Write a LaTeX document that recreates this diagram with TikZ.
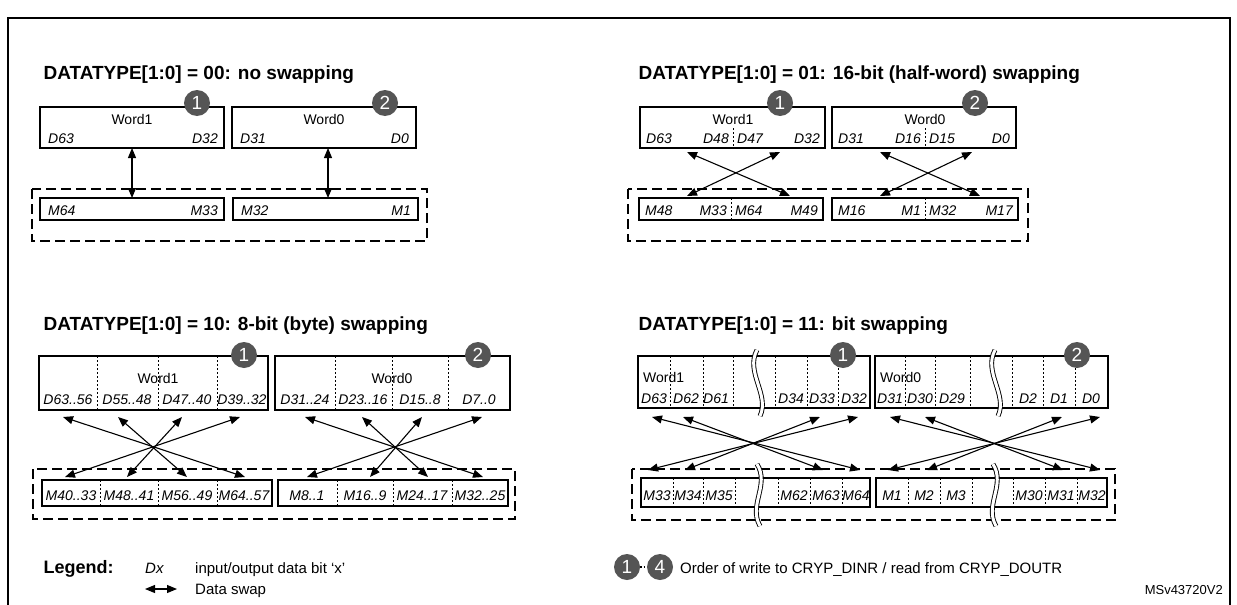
\documentclass[tikz,border=0pt]{standalone}
\usepackage{fontspec}
\setmainfont{Liberation Sans}
\usetikzlibrary{arrows.meta}
\definecolor{numgray}{HTML}{555555}
\tikzset{
  box/.style={draw,line width=1.3pt},
  grp/.style={draw,line width=1.3pt,dash pattern=on 10pt off 5pt},
  divd/.style={line width=1pt,dash pattern=on 2pt off 2pt},
  swap/.style={line width=1.1pt,{Triangle[length=10pt,width=8pt]}-{Triangle[length=10pt,width=8pt]}},
  num/.style={circle,fill=numgray,text=white,inner sep=0pt,minimum size=26pt,font=\fontsize{19}{19}\selectfont},
  ttl/.style={anchor=base west,font=\fontsize{19}{22}\selectfont\bfseries},
  lbl/.style={font=\fontsize{14}{16}\selectfont\itshape,inner sep=0pt,anchor=base},
  wrd/.style={font=\fontsize{14}{16}\selectfont,inner sep=0pt,anchor=base},
  brk/.style={line width=0.9pt,double=white,double distance=3pt}
}
\begin{document}
\begin{tikzpicture}[x=1pt,y=-1pt]
\useasboundingbox (0,0) rectangle (1237,605);
% frame
\draw[line width=1.5pt] (8,605) -- (8,18) -- (1230,18) -- (1230,605);

% ---- 00: no swapping
\node[ttl] (t00) at (40,79) {DATATYPE[1:0] = 00: no swapping};
\draw[grp] (32,189) rectangle (427,241);
\draw[box] (40,107) rectangle (224,148);
\draw[box] (232,107) rectangle (416,148);
\draw[box] (40,198) rectangle (224,220);
\draw[box] (233,198) rectangle (418,220);
\node[wrd] (w1a) at (132,124) {Word1};
\node[wrd] (w0a) at (324,124) {Word0};
\node[lbl,anchor=base west] at (48,143) {D63};
\node[lbl,anchor=base east] at (218,143) {D32};
\node[lbl,anchor=base west] at (240,143) {D31};
\node[lbl,anchor=base east] at (409,143) {D0};
\node[lbl,anchor=base west] at (48,215) {M64};
\node[lbl,anchor=base east] at (218,215) {M33};
\node[lbl,anchor=base west] at (241,215) {M32};
\node[lbl,anchor=base east] at (411,215) {M1};
\coordinate (a1t) at (132,148); \coordinate (a1b) at (132,198);
\coordinate (a0t) at (328,148); \coordinate (a0b) at (328,198);
\draw[swap] (a1t) -- (a1b);
\draw[swap] (a0t) -- (a0b);
\node[num] (n1a) at (197,103) {1};
\node[num] (n2a) at (385,103) {2};

% ---- 01: half-word swapping
\node[ttl] (t01) at (635,79) {DATATYPE[1:0] = 01: 16-bit (half-word) swapping};
\draw[grp] (628,189) rectangle (1028,241);
\draw[box] (640,107) rectangle (825,148);
\draw[box] (832,107) rectangle (1016,148);
\draw[box] (639,198) rectangle (823,220);
\draw[box] (832,198) rectangle (1018,220);
\draw[divd] (733,128) -- (733,148);
\draw[divd] (925,128) -- (925,148);
\draw[divd] (731,198) -- (731,220);
\draw[divd] (925,198) -- (925,220);
\node[wrd] (w1b) at (733,124) {Word1};
\node[wrd] (w0b) at (925,124) {Word0};
\foreach \x/\t/\a in {646/D63/west,729/D48/east,737/D47/west,820/D32/east,
                      838/D31/west,921/D16/east,929/D15/west,1010/D0/east}
  \node[lbl,anchor=base \a] at (\x,143) {\t};
\foreach \x/\t/\a in {645/M48/west,727/M33/east,735/M64/west,818/M49/east,
                      838/M16/west,921/M1/east,929/M32/west,1013/M17/east}
  \node[lbl,anchor=base \a] at (\x,215) {\t};
\foreach \p/\u/\l in {b1/687/790,b2/780/687,b3/880/980,b4/972/880}{
  \coordinate (\p t) at (\u,152); \coordinate (\p b) at (\l,196);
  \draw[swap] (\p t) -- (\p b);
}
\node[num] (n1b) at (780,103) {1};
\node[num] (n2b) at (975,103) {2};

% ---- 10: byte swapping
\node[ttl] (t10) at (40,330) {DATATYPE[1:0] = 10: 8-bit (byte) swapping};
\draw[grp] (33,469) rectangle (515,519);
\draw[box] (39,356) rectangle (268,410);
\draw[box] (275,356) rectangle (510,410);
\draw[box] (42,480) rectangle (272,506);
\draw[box] (278,480) rectangle (508,506);
\foreach \x in {97,158,217,335,392,448} \draw[divd] (\x,356) -- (\x,410);
\foreach \x in {100,158,217,337,393,452} \draw[divd] (\x,480) -- (\x,506);
\node[wrd] (w1c) at (158,383) {Word1};
\node[wrd] (w0c) at (392,383) {Word0};
\foreach \x/\t in {68/D63..56,127/D55..48,187/D47..40,242/D39..32,
                   305/D31..24,363/D23..16,420/D15..8,479/D7..0}
  \node[lbl] at (\x,404) {\t};
\foreach \x/\t in {71/M40..33,129/M48..41,187/M56..49,244/M64..57,
                   307/M8..1,365/M16..9,422/M24..17,480/M32..25}
  \node[lbl] at (\x,500) {\t};
\foreach \p/\u/\l in {c1/63/245,c2/118/187,c3/182/127,c4/240/65,
                      c5/305/483,c6/362/428,c7/422/370,c8/482/307}{
  \coordinate (\p t) at (\u,417); \coordinate (\p b) at (\l,477);
  \draw[swap] (\p t) -- (\p b);
}
\node[num] (n1c) at (244,355) {1};
\node[num] (n2c) at (478,355) {2};

% ---- 11: bit swapping
\node[ttl] (t11) at (635,330) {DATATYPE[1:0] = 11: bit swapping};
\draw[grp] (632,469) rectangle (1115,520);
\draw[box] (638,356) rectangle (870,408);
\draw[box] (875,356) rectangle (1108,408);
\draw[box] (641,478) rectangle (870,507);
\draw[box] (876,478) rectangle (1107,507);
\foreach \x in {670,703,733,775,807,838,905,935,970,1012,1043,1075}
  \draw[divd] (\x,356) -- (\x,408);
\foreach \x in {673,703,735,778,810,842,908,940,972,1013,1045,1077}
  \draw[divd] (\x,478) -- (\x,507);
\node[wrd,anchor=base west] (w1d) at (643,382) {Word1};
\node[wrd,anchor=base west] (w0d) at (880,382) {Word0};
\foreach \x/\t in {654/D63,686/D62,716/D61,791/D34,822/D33,854/D32,
                   890/D31,920/D30,952/D29,1028/D2,1059/D1,1091/D0}
  \node[lbl] at (\x,403) {\t};
\foreach \x/\t in {657/M33,688/M34,719/M35,794/M62,826/M63,856/M64,
                   892/M1,924/M2,956/M3,1029/M30,1061/M31,1092/M32}
  \node[lbl] at (\x,500) {\t};
\draw[brk] (757,350) .. controls (745,372) and (770,395) .. (760,416);
\draw[brk] (995,350) .. controls (983,372) and (1008,395) .. (998,416);
\draw[brk] (757,464) .. controls (770,485) and (748,505) .. (760,526);
\draw[brk] (993,464) .. controls (1006,485) and (984,505) .. (996,526);
\foreach \p/\u/\l in {d1/652/860,d2/683/823,d3/820/685,d4/858/648,
                      d5/890/1100,d6/925/1063,d7/1062/927,d8/1100/888}{
  \coordinate (\p t) at (\u,417); \coordinate (\p b) at (\l,470);
  \draw[swap] (\p t) -- (\p b);
}
\node[num] (n1d) at (843,355) {1};
\node[num] (n2d) at (1077,355) {2};

% ---- legend
\node[ttl,font=\fontsize{18}{20}\selectfont\bfseries] (leg) at (40,573) {Legend:};
\node[lbl,anchor=base west,font=\fontsize{15}{17}\selectfont\itshape] (dx) at (145,573) {Dx};
\node[wrd,anchor=base west,font=\fontsize{15}{17}\selectfont] (dxt) at (195,573) {input/output data bit ‘x’};
\coordinate (sl) at (145,589); \coordinate (sr) at (177,589);
\draw[swap] (sl) -- (sr);
\node[wrd,anchor=base west,font=\fontsize{15}{17}\selectfont] (swt) at (195,594) {Data swap};
\node[num] (l1) at (627,567) {1};
\node[num] (l4) at (660,567) {4};
\draw[line width=1.2pt,dash pattern=on 1.5pt off 2pt] (l1) -- (l4);
\node[wrd,anchor=base west,font=\fontsize{15}{17}\selectfont] (ord) at (680,573) {Order of write to CRYP\_DINR / read from CRYP\_DOUTR};
\node[wrd,anchor=base east,font=\fontsize{13}{15}\selectfont] (ref) at (1223,594) {MSv43720V2};
\end{tikzpicture}
\end{document}
